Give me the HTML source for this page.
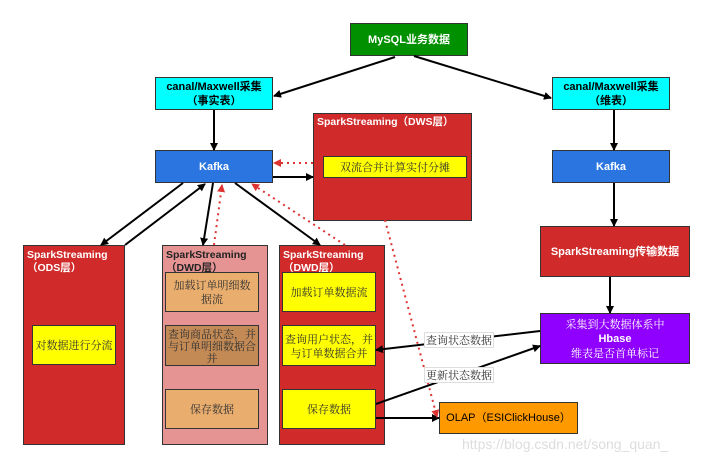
<!DOCTYPE html>
<html><head><meta charset="utf-8"><style>
body{margin:0;width:705px;height:460px;background:#fff;overflow:hidden;position:relative;font-family:"Liberation Sans","Noto Sans CJK SC",sans-serif}
.b{position:absolute;box-sizing:border-box;border:1.5px solid #333;display:flex;align-items:center;justify-content:center;text-align:center;font-size:11px;line-height:14px}
.w{color:#fff;font-weight:bold}
.s{font-family:"Noto Serif CJK SC",serif;font-size:11px;color:#333}
.t{position:absolute;color:#fff;font-size:10.5px;line-height:13px;font-weight:bold}
</style></head><body>
<div class="b w" style="left:350px;top:23px;width:118px;height:33px;background:#009000">MySQL业务数据</div>
<div class="b" style="left:155px;top:77px;width:118px;height:33px;background:#00ffff;color:#000;font-weight:bold">canal/Maxwell采集<br>（事实表）</div>
<div class="b" style="left:552px;top:77px;width:118px;height:33px;background:#00ffff;color:#000;font-weight:bold">canal/Maxwell采集<br>（维表）</div>
<div class="b w" style="left:155px;top:150px;width:118px;height:33px;background:#2a75e0">Kafka</div>
<div class="b w" style="left:552px;top:150px;width:118px;height:33px;background:#2a75e0">Kafka</div>
<div class="b" style="left:313px;top:113px;width:159px;height:108px;background:#d02a2a"></div>
<div class="t" style="left:317px;top:116px">SparkStreaming（DWS层）</div>
<div class="b s" style="left:323px;top:156px;width:144px;height:22px;background:#ff0">双流合并计算实付分摊</div>
<div class="b w" style="left:540px;top:226px;width:150px;height:51px;background:#d02a2a">SparkStreaming传输数据</div>
<div class="b w" style="left:540px;top:313px;width:150px;height:51px;background:#8f00ff;font-weight:normal;font-family:'Noto Serif CJK SC',serif"><span>采集到大数据体系中<br><b style="font-family:'Liberation Sans',sans-serif">Hbase</b><br>维表是否首单标记</span></div>
<div class="b" style="left:439px;top:402px;width:139px;height:32px;background:#ff9900;color:#000">OLAP（ESIClickHouse）</div>

<div class="b" style="left:23px;top:245px;width:102px;height:200px;background:#d02a2a"></div>
<div class="t" style="left:27px;top:249px">SparkStreaming<br>（ODS层）</div>
<div class="b s" style="left:32px;top:325px;width:84px;height:40px;background:#ff0">对数据进行分流</div>

<div class="b" style="left:162px;top:245px;width:106px;height:200px;background:#e59393"></div>
<div class="t" style="left:166px;top:249px;color:#222">SparkStreaming<br>（DWD层）</div>
<div class="b s" style="left:165px;top:272px;width:94px;height:40px;background:#e9ad6d">加载订单明细数<br>据流</div>
<div class="b s" style="left:165px;top:325px;width:94px;height:41px;background:#c38a55;line-height:12px">查询商品状态，并与订单明细数据合并</div>
<div class="b s" style="left:165px;top:389px;width:94px;height:40px;background:#e9ad6d">保存数据</div>

<div class="b" style="left:279px;top:245px;width:106px;height:200px;background:#d02a2a"></div>
<div class="t" style="left:283px;top:249px">SparkStreaming<br>（DWD层）</div>
<div class="b s" style="left:282px;top:272px;width:94px;height:40px;background:#ff0">加载订单数据流</div>
<div class="b s" style="left:282px;top:325px;width:94px;height:41px;background:#ff0">查询用户状态，并与订单数据合并</div>
<div class="b s" style="left:282px;top:389px;width:94px;height:40px;background:#ff0">保存数据</div>

<svg width="705" height="460" style="position:absolute;left:0;top:0">
<defs>
<marker id="a" markerWidth="8" markerHeight="8" refX="7" refY="4" orient="auto" markerUnits="userSpaceOnUse"><path d="M0,0L8,4L0,8z" fill="#000"/></marker>
<marker id="r" markerWidth="8" markerHeight="8" refX="7" refY="4" orient="auto" markerUnits="userSpaceOnUse"><path d="M0,0L8,4L0,8z" fill="#d33"/></marker>
</defs>
<g stroke="#000" stroke-width="2" fill="none" marker-end="url(#a)">
<line x1="395" y1="57" x2="274" y2="96"/>
<line x1="414" y1="56" x2="551" y2="98"/>
<line x1="214" y1="110" x2="214" y2="150"/>
<line x1="273" y1="177" x2="313" y2="177"/>
<line x1="183" y1="183" x2="101" y2="245"/>
<line x1="125" y1="245" x2="205" y2="184"/>
<line x1="213" y1="183" x2="203" y2="245"/>
<line x1="235" y1="183" x2="320" y2="245"/>
<line x1="540" y1="331" x2="376" y2="350"/>
<line x1="376" y1="404" x2="540" y2="346"/>
<line x1="376" y1="418" x2="439" y2="418"/>
<line x1="614" y1="110" x2="614" y2="150"/>
<line x1="614" y1="183" x2="614" y2="226"/>
<line x1="610" y1="277" x2="610" y2="313"/>
</g>
<g stroke="#d33" stroke-width="2" stroke-dasharray="2,4" fill="none" marker-end="url(#r)">
<line x1="313" y1="163" x2="274" y2="163"/>
<line x1="214" y1="245" x2="222" y2="185"/>
<line x1="345" y1="245" x2="252" y2="184"/>
<line x1="385" y1="220" x2="437" y2="417"/>
</g>
</svg>
<div class="s" style="position:absolute;left:424px;top:332px;background:#fff;border:1px solid #ddd;padding:0 1px;line-height:14px">查询状态数据</div>
<div class="s" style="position:absolute;left:424px;top:367px;background:#fff;border:1px solid #ddd;padding:0 1px;line-height:14px">更新状态数据</div>
<div style="position:absolute;left:462px;top:436px;color:#ddd;font-size:14px">https://blog.csdn.net/song_quan_</div>
</body></html>
